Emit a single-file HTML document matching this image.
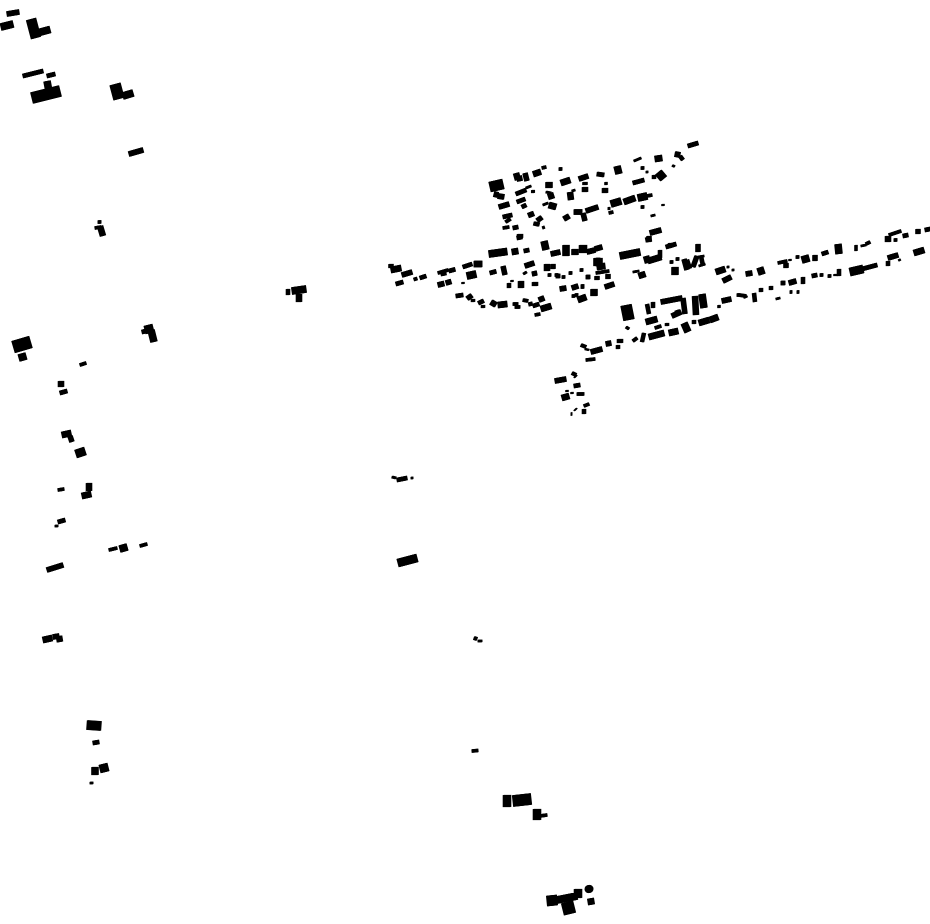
<!DOCTYPE html>
<html><head><meta charset="utf-8"><style>html,body{margin:0;padding:0;background:#fff}svg{display:block}path{fill:none;stroke:#000}</style></head><body>
<svg width="930" height="924" viewBox="0 0 930 924" xmlns="http://www.w3.org/2000/svg">
<g id="a">
<path stroke-width="2" d="M543 226l1 3M609 207v3M585 349l4 1M899 259l1 2"/>
<path stroke-width="2.600" d="M673 167l1-2M646 172h2M663 204v2M526 188l5-2M523.500 274l3-2M546 192l5 1M543 205l5-2M512 280v2M651 216l4-1M634 161l7-3M606 182v3M572 191l3-1M727 267h2M732 270h2M698 257l6-1M699 266l6-2M626 327l3 2M719 305v3M567 390v2M572 392v2M856 245v6M861 246l5-1M776 299l4-1M790 259v2M392 477l4 1M411 478h2M478 641h4M90 783h3M55 526h3M463 282v2M633 272l6-1"/>
<path stroke-width="3.100" d="M533 190v3"/>
<path stroke-width="3.600" d="M438 273l10-3M414 279.500l3-1M503 228l6-1M542 168l4-1M559 169h3M641 168h3M641 207h3M670 262h3M676 259h3M555 275h3M562 277h3M569 273h3M580 270h3M581 286h3M575 295h3M572 296h3M581 287h3M548 275h3M515 307h5M513 304h5M523 300l5 1M530 302l1 4M473 299v3M483 305v3M535 315l5-1M509 283v5M596 273l13-2M680 156l3 4M647 196l5-1M609 213l4-1M654 175v4M670 243v5M647 304l2 10M653 302v6M660 250v8M701 256l2 10M655 328l6-2M667 323v3M694 320v4M737 295h3M644 333l-2 9M633 341l4-3M618 345v4M581 345l5 2M586 360l9-1M572 373l4 2M575 376l1 1M577 394l7 0M584 409v5M584 406l5-2M575 409l1 1M571 414l1 0M778 263l9-2M796 257h3M866 244l4-2M889 235l12-4M894 240h3M888 261v5M839 269v7M828 276h3M820 275h3M803 277v7M771 286v4M761 288v4M754 293l1 9M739 295l7 1M745 296l1 2M790 292h2M797 292h2M58 490l6-1M80 365l6-2M109 550l8-2M140 546l7-2M474 638l3 1M472 751l6-.5M540 816l7-1M95 228l6-1M288 289v6M98 222h3"/>
<path stroke-width="4.600" d="M396 284l7-2M420 278l6-2M449 271l6-1.600M441 274l5-1M463 267l9-3M490 273l6-1.600M503 266l2 9M534 271l1 5M456 296l7-1M533 306l6-2M524 251l5-1M513 228l5-1M503 217l9-2M516 194l10-4M517 202l8-3M523 204l2 4M525 173l2 8M553 264v5M556 276h4M517 238l5-1M688 146l10-3M633 183l11-3M597 174l7 1M585 182v3M583 213l2 8M666 247l10-3M649 236v6M684 259l3 11M697 256l-4 11M698 244v8M597 276v4M608 274v5M683 298l2 16M677 310l1 3M586 277h4M574 386l6-1M812 276l5-1M781 283h4M815 255v6M822 254l6-2M903 236l5-1M918 229v5M925 230l5-1M920 248l1 4M836 274v2M862 269l15-4M786 263v5M23 76l20-5M47 76l8-2M60 393l7-2M58 522l7-2M93 743l6-1M397 480l10-2M70 436l2 6M142 332l4-1"/>
<path stroke-width="5.600" d="M402 275l10-3M438 285l6-1.500M446 283l5-1.500M468 295l3 4M480 300l2 4M491 302l5 3M539 300l5-2M547 264v7M525 266l9-3M521 281v7M535 282v4M499 207l10-3M494 194l4 1M498 196l6 1M516 173l2 7M517 179l5-1M550 193l2 6M530 212l2 5M538 217l3 4M537 222l-1 4M551 254l9-2M507 219l2 3M675 154l5 1M579 179l9-3M585 187v5M605 188v5M570 192l1 8M564 219l5-3M574 212l8 0M586 211l12-4M650 233l11-3M648 237l1 5M646 256l2 7M686 260l3 9M723 281l8-4M587 252l8-2M595 249l7-2M560 289l6-1M572 288l6-2M605 287l9-3M661 302l21-4M695 296l1 19M672 316l9-4M722 301l9-2M606 344l5-1M620 339v4M591 352l11-3M555 381l11-2M746 274l6-1M789 283l7-2M888 236v6M888 258l10-3M7 14l12-2M129 154l14-4M61 381v6M47 570l16-5M299 294v8M520 234v4M100 226l3 10M53 637l6-1M59 636l1 6M89 483v8"/>
<path stroke-width="6.600" d="M474 264l8 0M498 305l9-1M541 309l10-3M512 252l6-1M544 241l2 9M549 182v6M549 205l7 2M655 159l7-1M617 166l2 8M561 183l9-3M624 202l11-4M648 261l13-4M641 272l2 6M716 272l9-3M566 245v11M575 249v6M597 267l8-1M675 267v8M702 294l2 14M646 322l11-3M649 337l15-4M669 333l9-2M684 323l4 9M699 323l10-3M710 320l8-3M562 398l7-2M594 289v7M578 300l8-3M838 244l1 10M914 253l10-3M120 549l7-2M43 640l9-2M95 767v8M47 81l1.500 8M82 496l9-2M588 902l6-1M62 435l9-2M151 330l3 12"/>
<path stroke-width="7.600" d="M467 276l9-2M536 170l2 6M638 198l9-2M611 204l10-3M1 27l12-3M37 33l13-3.500M123 96l10-3M19 358l7-2M583 245v8M758 272l6-2M802 260l7-2M620 256l20-4M292 291l14-2M489 254l18-2.500M537 809v11M507 795v12M578 889v9M557 900l20-4M120 549l7-2"/>
<path stroke-width="8.600" d="M658 178l6-5M100 769l8-2M398 563l19-5M850 272l13-3M145 330l8-2M596 262l4 0M598 258v8M76 454l9-3"/>
<path stroke-width="9.600" d="M31 19l5 19M87 725l14 1"/>
<path stroke-width="10.600" d="M490 187l13-3M115 84l4 15M626 305l3 15M547 901l10-1"/>
<path stroke-width="11.600" d="M32 98l28-7M513 801l18-2M567 902l3 12"/>
<path stroke-width="12.500" d="M13.500 347l17-5"/>
<path stroke-width="4.600" d="M391 264v4"/><path stroke-width="6.600" d="M391 270l10-2"/>
<circle cx="589" cy="889" r="4"/>
</g>
<use href="#a" transform="translate(.5,-.13)"/>
<use href="#a" transform="translate(-.5,.13)"/>
</svg>
</body></html>
